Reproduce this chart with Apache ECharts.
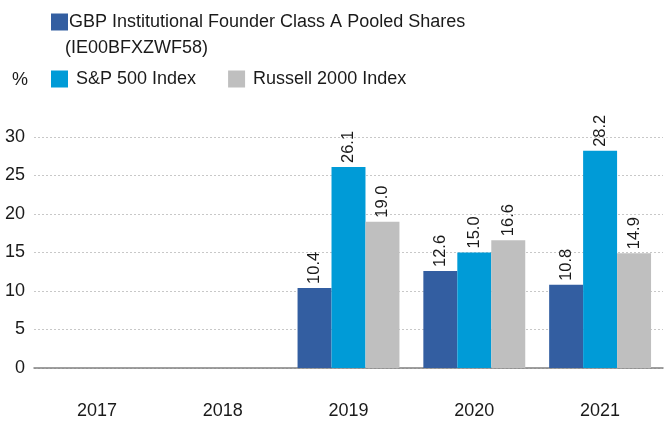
<!DOCTYPE html>
<html>
<head>
<meta charset="utf-8">
<script src="https://cdn.jsdelivr.net/npm/echarts@6/dist/echarts.min.js"></script>
<style>
  html, body { margin: 0; padding: 0; background: #fff; }
  #chart1 { width: 665px; height: 421px; }
</style>
</head>
<body>
<div id="chart1"></div>
<script>
// 年度回报 vs 指数
const Data_Year = ['2017', '2018', '2019', '2020', '2021'];
const Name_Fund = 'GBP Institutional Founder Class A Pooled Shares (IE00BFXZWF58)';
const Name_SP = 'S&P 500 Index';
const Name_Russell = 'Russell 2000 Index';
const Data_Fund = [null, null, 10.4, 12.6, 10.8];
const Data_SP = [null, null, 26.1, 15.0, 28.2];
const Data_Russell = [null, null, 19.0, 16.6, 14.9];

function renderChart1() {
  const dom = document.getElementById("chart1");
  const chart = echarts.init(dom);
  const font = 'Liberation Sans, Arial, sans-serif';
  const barLabel = {
    show: true,
    position: 'top',
    rotate: 90,
    align: 'left',
    verticalAlign: 'middle',
    distance: 4,
    color: '#1a1a1a',
    fontSize: 16.5,
    fontFamily: font,
    formatter: (p) => p.value.toFixed(1),
  };
  const option = {
    animation: false,
    title: {
      text: '(IE00BFXZWF58)',
      left: 60,
      top: 34,
      textStyle: { fontSize: 18, fontWeight: 'normal', color: '#1a1a1a', fontFamily: font },
    },
    legend: [
      {
        data: [Name_Fund],
        left: 46,
        top: 8,
        itemWidth: 17,
        itemHeight: 17,
        icon: 'rect',
        formatter: () => 'GBP Institutional Founder Class A Pooled Shares',
        textStyle: { fontSize: 18, color: '#1a1a1a', fontFamily: font, padding: [0, 0, 0, -4] },
      },
      {
        data: [Name_SP, Name_Russell],
        left: 46,
        top: 65,
        itemWidth: 17,
        itemHeight: 17,
        itemGap: 32,
        icon: 'rect',
        textStyle: { fontSize: 18, color: '#1a1a1a', fontFamily: font, padding: [0, 0, 0, 3] },
      },
    ],
    grid: {
      left: 34,
      right: 2,
      top: 137,
      bottom: 53,
    },
    xAxis: [
      {
        type: 'category',
        data: Data_Year,
        axisTick: { show: false },
        axisLine: { lineStyle: { color: '#808080', width: 1.5 } },
        axisLabel: { fontSize: 18, color: '#1a1a1a', fontFamily: font, margin: 34 },
      }
    ],
    yAxis: [
      {
        type: 'value',
        name: '%',
        nameLocation: 'end',
        nameGap: 48,
        nameTextStyle: { fontSize: 18, color: '#1a1a1a', fontFamily: font, align: 'right', padding: [0, 6, 0, 0] },
        min: 0,
        max: 30,
        interval: 5,
        axisLabel: { fontSize: 18, color: '#1a1a1a', fontFamily: font, margin: 9 },
        splitLine: { lineStyle: { color: '#c8c8c8', type: [2, 2] } },
      }
    ],
    series: [
      {
        name: Name_Fund,
        type: 'bar',
        data: Data_Fund,
        itemStyle: { color: '#335ea1' },
        barGap: '0%',
        barCategoryGap: '19%',
        label: barLabel,
      },
      {
        name: Name_SP,
        type: 'bar',
        data: Data_SP,
        itemStyle: { color: '#009bd7' },
        label: barLabel,
      },
      {
        name: Name_Russell,
        type: 'bar',
        data: Data_Russell,
        itemStyle: { color: '#bfbfbf' },
        label: barLabel,
      },
    ]
  };
  chart.setOption(option, true);
}
renderChart1();
</script>
</body>
</html>
